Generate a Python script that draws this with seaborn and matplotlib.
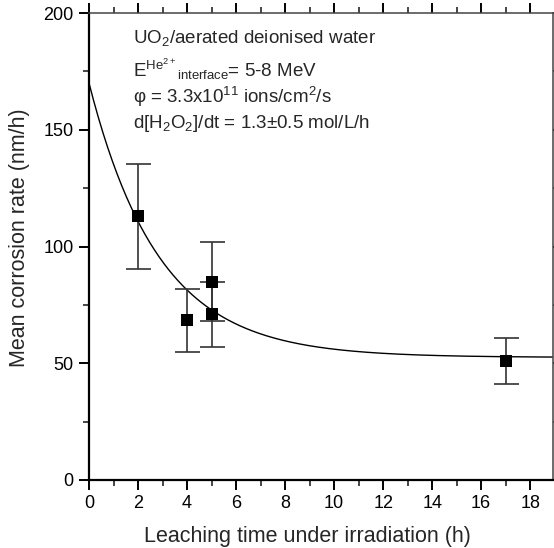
import numpy as np
import pandas as pd
import matplotlib
matplotlib.use("Agg")
import matplotlib.pyplot as plt
from matplotlib.ticker import MultipleLocator
import seaborn as sns

# Measured mean corrosion rates
time_h = [2, 4, 5, 5, 17]
rate = [113, 68.5, 85, 71, 51]
rate_err = [22.5, 13.5, 17, 14, 10]

# Exponential decay fit: y = y0 + A * exp(-t / tau)
fit_y0 = 52.5
fit_A = 117.5
fit_tau = 2.85

x_ticks = [0, 2, 4, 6, 8, 10, 12, 14, 16, 18]
y_ticks = [0, 50, 100, 150, 200]

sns.set_style("ticks")
plt.rcParams["font.family"] = ["Liberation Sans", "DejaVu Sans"]
plt.rcParams["mathtext.fontset"] = "custom"
plt.rcParams["mathtext.rm"] = "Liberation Sans"
plt.rcParams["mathtext.it"] = "Liberation Sans:italic"
plt.rcParams["mathtext.bf"] = "Liberation Sans:bold"

fig = plt.figure(figsize=(5.54, 5.48), dpi=100)
ax = fig.add_axes([89 / 554, 68 / 548, 464 / 554, 467 / 548])

df = pd.DataFrame({"t": time_h, "rate": rate, "err": rate_err})

t_fit = np.linspace(0, 19, 300)
fit_df = pd.DataFrame({"t": t_fit, "rate": fit_y0 + fit_A * np.exp(-t_fit / fit_tau)})
sns.lineplot(data=fit_df, x="t", y="rate", color="black", linewidth=1.0, ax=ax, zorder=2)

ax.errorbar(df["t"], df["rate"], yerr=df["err"], fmt="none", ecolor="#333333",
            elinewidth=1.2, capsize=9, capthick=1.2, zorder=3)
sns.scatterplot(data=df, x="t", y="rate", marker="s", s=85, color="black",
                edgecolor="black", linewidth=0, ax=ax, zorder=4)

ax.set_xlim(0, 18.93)
ax.set_ylim(0, 200)
ax.set_xticks(x_ticks)
ax.set_yticks(y_ticks)
ax.xaxis.set_minor_locator(MultipleLocator(1))
ax.yaxis.set_minor_locator(MultipleLocator(25))

for side in ["left", "bottom"]:
    ax.spines[side].set_linewidth(1.6)
    ax.spines[side].set_color("black")
for side in ["top", "right"]:
    ax.spines[side].set_visible(True)
    ax.spines[side].set_linewidth(1.1)
    ax.spines[side].set_color("#444444")

ax.tick_params(axis="both", which="major", labelsize=13, width=1.4, length=7,
               colors="black", pad=4)
ax.tick_params(axis="both", which="minor", width=1.2, length=4)
ax.tick_params(axis="x", which="both", direction="out", top=True, labeltop=False)
ax.tick_params(axis="y", which="both", direction="out", right=True, labelright=False)

ax.set_xlabel("Leaching time under irradiation (h)", fontsize=15.5)
ax.set_ylabel("Mean corrosion rate (nm/h)", fontsize=15.5)
ax.xaxis.set_label_coords(0.47, -0.099)
ax.yaxis.set_label_coords(-0.128, 0.518)

lines = [
    r"UO$_2$/aerated deionised water",
    r"E$^{\mathrm{He}^{2+}}{}_{\mathrm{interface}}$= 5-8 MeV",
    r"φ = 3.3x10$^{11}$ ions/cm$^2$/s",
    r"d[H$_2$O$_2$]/dt = 1.3±0.5 mol/L/h",
]
y_pos = [38, 69, 97, 123]
for txt, yp in zip(lines, y_pos):
    ax.text(133 / 554, 1 - yp / 548, txt, transform=fig.transFigure,
            fontsize=13.5, va="center", ha="left")

fig.savefig("out.png", dpi=100)
